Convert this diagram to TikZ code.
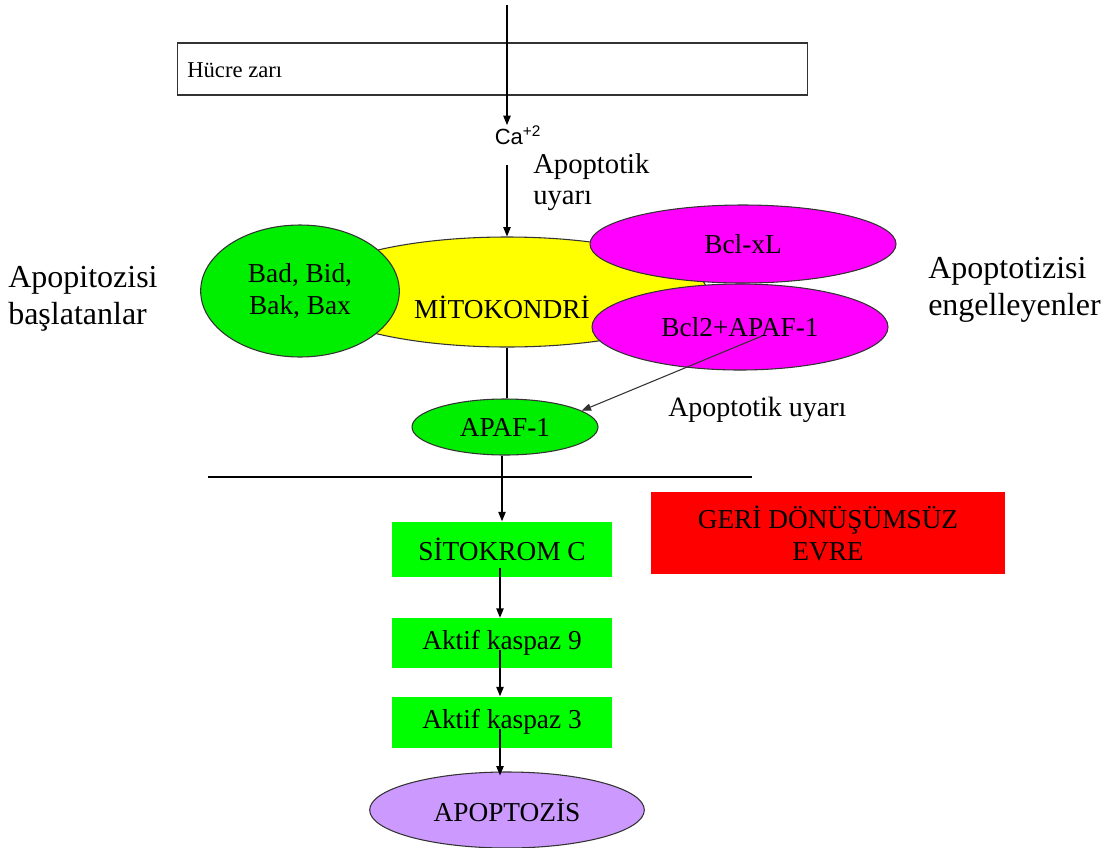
\documentclass[tikz,border=0pt]{standalone}
\usepackage{fontspec}
\setmainfont{Liberation Serif}
\newfontfamily\casans{Liberation Sans}
\usetikzlibrary{shapes.geometric,arrows.meta}
\definecolor{lime}{HTML}{00FF00}
\definecolor{ellgreen}{HTML}{00EE00}
\definecolor{mag}{HTML}{FF00FF}
\definecolor{yel}{HTML}{FFFF00}
\definecolor{redbox}{HTML}{FF0000}
\definecolor{purp}{HTML}{CC99FF}
\definecolor{edge}{HTML}{333333}
\tikzset{
  arr/.style={draw=black, line width=0.9pt, -{Triangle[length=7pt,width=5.5pt]}},
  plain/.style={draw=black, line width=0.9pt},
  ell/.style={ellipse, draw=edge, line width=0.8pt, inner sep=0pt, align=center},
  gbox/.style={rectangle, fill=lime, inner sep=0pt, align=center},
  lbl/.style={inner sep=0pt, align=left},
  fA/.style={font=\fontsize{20.5pt}{24pt}\selectfont},
  fB/.style={font=\fontsize{21.5pt}{23.5pt}\selectfont},
  fC/.style={font=\fontsize{24pt}{28pt}\selectfont},
}
\begin{document}
\begin{tikzpicture}[x=0.75pt,y=-0.75pt]
\useasboundingbox (0,0) rectangle (1118,847);
% cell membrane
\node[rectangle, draw=edge, line width=0.8pt, minimum width=473pt, minimum height=39pt, inner sep=0pt] (zar) at (492.5,69) {};
\node[lbl, font=\fontsize{17pt}{20pt}\selectfont, anchor=west] (zartext) at (187,70) {Hücre zarı};
\coordinate (top) at (507,5);
\node[inner sep=0pt, font=\casans\fontsize{16.5pt}{19pt}\selectfont] (ca) at (518,135) {Ca\textsuperscript{+2}};
\coordinate (castart) at (507,165);
\node[lbl, fB, anchor=west] (uyari1) at (533,182) {Apoptotik\\uyarı};
% mitochondria
\node[ell, fill=yel, minimum width=300pt, minimum height=82.5pt] (mito) at (507,292) {};
\node[inner sep=0pt, fA] (mitotext) at (502,307) {MİTOKONDRİ};
\node[ell, fill=ellgreen, minimum width=149pt, minimum height=99pt, fA] (bad) at (300,291) {Bad, Bid,\\Bak, Bax};
\node[ell, fill=mag, minimum width=229.5pt, minimum height=58.5pt, fA] (bclxl) at (743,244) {Bcl-xL};
\node[ell, fill=mag, minimum width=222pt, minimum height=64.5pt, fA] (bcl2) at (740,327) {Bcl2+APAF-1};
\node[lbl, fC, anchor=west] (basl) at (8,299) {Apopitozisi\\başlatanlar};
\node[lbl, fC, anchor=west] (engel) at (928,290) {Apoptotizisi\\engelleyenler};
% APAF-1
\node[ell, fill=ellgreen, minimum width=139.5pt, minimum height=42pt, fA] (apaf) at (505,427) {APAF-1};
\coordinate (bclpt) at (762,336);
\node[lbl, font=\fontsize{21pt}{24pt}\selectfont, anchor=west] (uyari2) at (668,410) {Apoptotik uyarı};
% barrier line
\coordinate (hl1) at (208,477);
\coordinate (hl2) at (752,477);
% cascade
\node[gbox, minimum width=165pt, minimum height=41.25pt, fA] (sito) at (502,549) {SİTOKROM C};
\node[gbox, minimum width=165pt, minimum height=37.5pt, fA] (k9) at (502,643) {Aktif kaspaz 9};
\node[gbox, minimum width=165pt, minimum height=38.25pt, fA] (k3) at (502,722) {Aktif kaspaz 3};
\node[ell, fill=purp, minimum width=206pt, minimum height=57pt, fA] (apopt) at (507,810) {APOPTOZİS};
\node[rectangle, fill=redbox, minimum width=265pt, minimum height=62pt, inner sep=0pt, align=center, fA] (geri) at (828,533) {GERİ DÖNÜŞÜMSÜZ\\EVRE};
% connectors
\draw[arr] (top) -- (top |- ca.north);
\draw[arr] (castart) -- (castart |- mito.north);
\draw[plain] (mito.south) -- (mito.south |- apaf.north);
\draw[line width=0.8pt, draw=edge, -{Triangle[length=7pt,width=5.5pt]}] (bclpt) -- (apaf.12);
\draw[plain] (hl1) -- (hl2);
\draw[arr] (sito.north |- apaf.south) -- (sito.north);
\draw[arr] ([xshift=-1.5pt,yshift=6.75pt]sito.south) -- ([xshift=-1.5pt]k9.north);
\draw[arr] ([xshift=-1.5pt,yshift=13.5pt]k9.south) -- ([xshift=-1.5pt]k3.north);
\draw[arr] ([xshift=-1.5pt,yshift=14pt]k3.south) -- ([xshift=-1.5pt,yshift=-3pt]k3.south |- apopt.north);
\end{tikzpicture}
\end{document}
